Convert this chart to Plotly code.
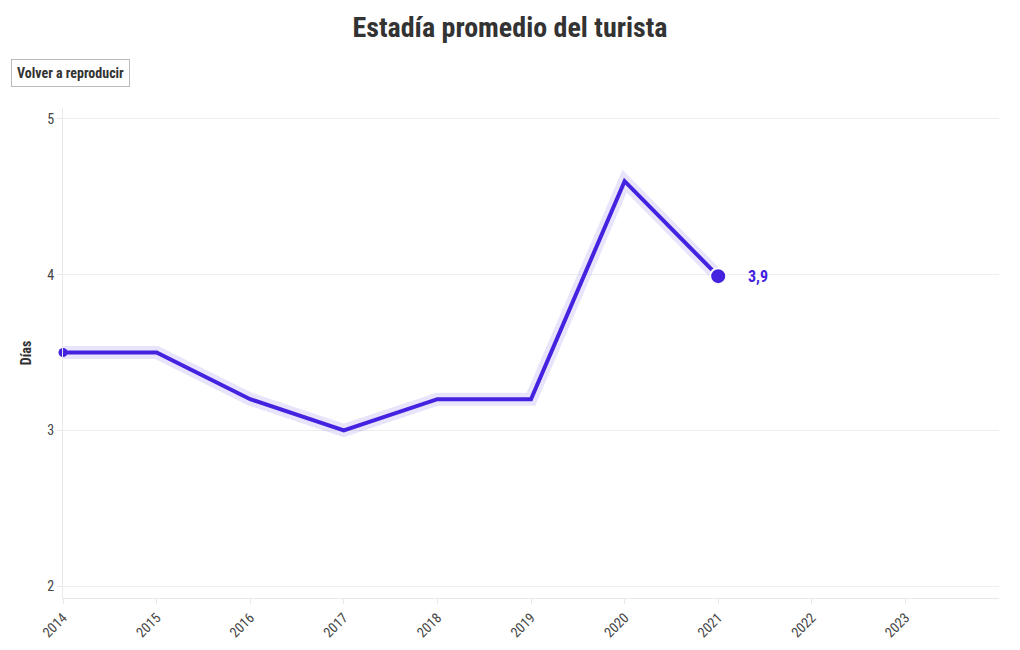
import plotly.graph_objects as go

years = [2014, 2015, 2016, 2017, 2018, 2019, 2020, 2021]
dias = [3.5, 3.5, 3.2, 3.0, 3.2, 3.2, 4.6, 3.99]
last_label = "3,9"
x_ticks = [2014, 2015, 2016, 2017, 2018, 2019, 2020, 2021, 2022, 2023]
y_ticks = [2, 3, 4, 5]

FONT = "Roboto Condensed, Liberation Sans Narrow, DejaVu Sans Condensed, Roboto, sans-serif"
BLUE = "#4422e0"

fig = go.Figure()
# halo
fig.add_trace(go.Scatter(x=years, y=dias, mode="lines",
                         line=dict(color="rgba(68,34,224,0.12)", width=13),
                         hoverinfo="skip", showlegend=False, cliponaxis=False))
# main line
fig.add_trace(go.Scatter(x=years, y=dias, mode="lines",
                         line=dict(color=BLUE, width=4),
                         showlegend=False, cliponaxis=False))
# start dot
fig.add_trace(go.Scatter(x=years[:1], y=dias[:1], mode="markers",
                         marker=dict(color=BLUE, size=9),
                         showlegend=False, cliponaxis=False))
# end dot
fig.add_trace(go.Scatter(x=years[-1:], y=dias[-1:], mode="markers",
                         marker=dict(color=BLUE, size=16, line=dict(color="white", width=2)),
                         showlegend=False, cliponaxis=False))

fig.add_annotation(x=years[-1], y=dias[-1], text="<b>" + last_label + "</b>",
                   showarrow=False, xanchor="left", xshift=28,
                   font=dict(family=FONT, size=16, color=BLUE))

# replay button
fig.add_annotation(xref="paper", yref="paper",
                   x=(11 - 63) / 936, y=1 + (108 - 59) / 490,
                   xanchor="left", yanchor="top",
                   text="<b>Volver a reproducir</b>", showarrow=False,
                   bgcolor="white", bordercolor="#bbbbbb", borderwidth=1, borderpad=5,
                   font=dict(family=FONT, size=14, color="#333"))

fig.update_layout(
    width=1020, height=650,
    margin=dict(l=63, r=21, t=108, b=52),
    paper_bgcolor="white", plot_bgcolor="white",
    font=dict(family=FONT, color="#444"),
    title=dict(text="<b>Estadía promedio del turista</b>", x=0.5, xanchor="center",
               y=0.958, yanchor="middle",
               font=dict(family=FONT, size=28, color="#333")),
    xaxis=dict(range=[2014, 2024], tickvals=x_ticks, ticktext=[str(v) for v in x_ticks],
               tickangle=-45, showgrid=False, zeroline=False, automargin=False,
               showline=True, linecolor="#e8e8e8", linewidth=1,
               ticks="outside", ticklen=5, tickcolor="#e8e8e8",
               tickfont=dict(family=FONT, size=14, color="#444")),
    yaxis=dict(range=[1.923, 5.07], tickvals=y_ticks, ticktext=[str(v) for v in y_ticks],
               showgrid=True, gridcolor="#eeeeee", zeroline=False, automargin=False,
               showline=True, linecolor="#e8e8e8", linewidth=1,
               ticks="outside", ticklen=5, tickcolor="#e8e8e8",
               tickfont=dict(family=FONT, size=14, color="#444"),
               title=dict(text="<b>Días</b>", standoff=12,
                          font=dict(family=FONT, size=14, color="#333"))),
)

fig.write_html("out.html")
